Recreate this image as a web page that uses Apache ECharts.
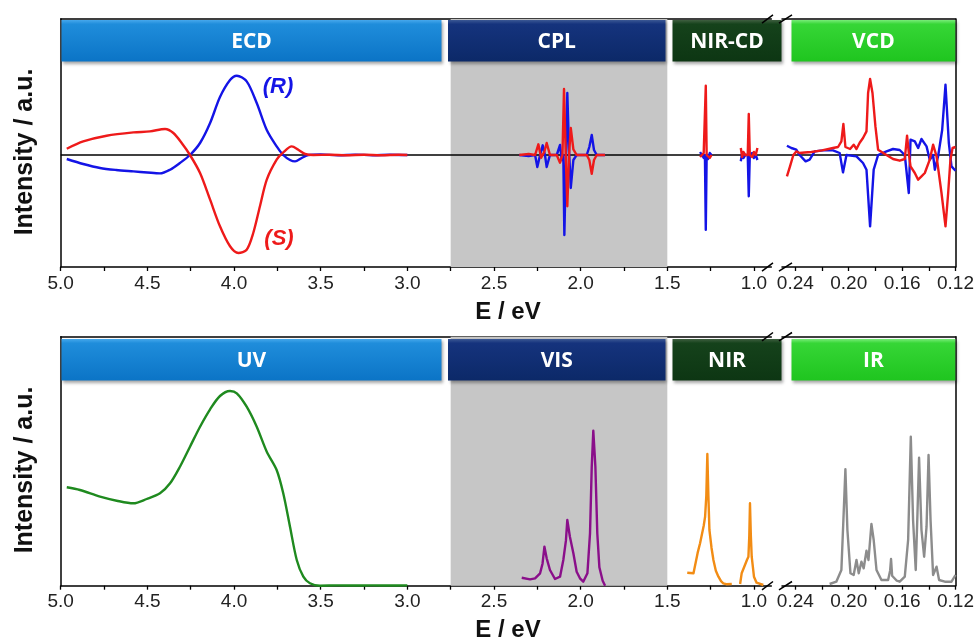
<!DOCTYPE html>
<html><head><meta charset="utf-8">
<script src="https://cdn.jsdelivr.net/npm/echarts@6/dist/echarts.min.js"></script>
<style>html,body{margin:0;padding:0;background:#fff;}#c{width:977px;height:644px;}</style>
</head><body><div id="c"></div>
<script>
// ---------------- DATA (energy in eV, intensity in a.u.) ----------------
// Top panel: ECD (5.0 - 3.0 eV)
const ecdRx = [4.965,4.87,4.773,4.68,4.58,4.50,4.427,4.369,4.312,4.254,4.196,4.138,4.081,4.023,3.984,3.927,3.869,3.811,3.754,3.716,3.677,3.648,3.609,3.571,3.50,3.40,3.30,3.20,3.10,3.00];
const ecdRy = [-4,-9,-13,-15,-16.4,-17.5,-18.4,-14.7,-8,0,12,32,58,75,79.3,73.6,52,25,8.6,0,-5,-6.4,-3,0,0.5,-0.3,0.4,-0.2,0.3,0];
const ecdSx = [4.965,4.87,4.735,4.58,4.485,4.398,4.35,4.302,4.254,4.196,4.138,4.081,4.023,3.975,3.927,3.889,3.85,3.811,3.754,3.716,3.667,3.629,3.59,3.542,3.45,3.35,3.25,3.15,3.05,3.0];
const ecdSy = [6.3,13.6,19.3,22.6,23.6,26,22,12,0,-18,-44.7,-71.3,-91.3,-98,-94.7,-78,-51,-24.7,-4.7,2.6,8.6,5.3,1,0,0.3,-0.3,0.2,-0.2,0.3,0];
// CPL
const cplRx = [2.354,2.30,2.263,2.250,2.234,2.219,2.206,2.196,2.177,2.138,2.119,2.109,2.100,2.094,2.084,2.077,2.067,2.057,2.042,2.023,1.965,1.950,1.936,1.923,1.907,1.859];
const cplRy = [0,-1,0,-12,0,9.7,0,-12,0,0,10,-5,0,-80,0,62,5,-33,-5,0,0,8,20,5,0,0];
const cplSx = [2.354,2.30,2.263,2.244,2.228,2.210,2.196,2.177,2.138,2.119,2.105,2.096,2.086,2.077,2.067,2.057,2.042,2.023,1.965,1.950,1.936,1.923,1.907,1.859];
const cplSy = [0,1,0,10.7,-2.7,3,12,0,0,-7.7,0,66,0,-51.3,0,27,5.6,0,0,-5,-18.7,-5,0,0];
// NIR-CD (two bands)
const nircd1x = [1.311,1.30,1.29,1.283,1.278,1.273,1.265,1.255,1.245];
const nircd1R = [3,4,-3,0,-74.7,0,-4,2,0];
const nircd1S = [-2,-4,2,0,69.3,0,2,-3,0];
const nircd2x = [1.076,1.068,1.061,1.050,1.036,1.030,1.024,1.010,1.000,0.990,0.980];
const nircd2R = [-6.3,2,-3,0,0,-41.3,0,2,-3,0,-5];
const nircd2S = [7,-2,3,0,0,41,0,-2,3,0,7];
// VCD (0.25 - 0.12 eV)
const vcdRx = [0.2463,0.2430,0.2393,0.2368,0.2323,0.2293,0.2255,0.2193,0.2118,0.2068,0.2043,0.2017,0.1942,0.1893,0.1867,0.1840,0.1813,0.1780,0.1717,0.1668,0.1618,0.1580,0.1550,0.1537,0.1505,0.1480,0.1455,0.1417,0.1393,0.1368,0.1355,0.1330,0.1300,0.1275,0.1250,0.1230,0.1200];
const vcdRy = [9.3,7,5.3,0,-6.4,-4.7,3.6,4.6,4.6,2,-17.4,0,-1.4,-8,-14.7,-71.4,-14.7,0,3.6,6,5,0,-38,15.3,13.6,7,16,8.6,-4.7,0,-14.7,-1,25,70.3,12,-11.4,-15.7];
const vcdSx = [0.2463,0.2440,0.2415,0.2393,0.2368,0.2330,0.2280,0.2200,0.2118,0.2080,0.2055,0.2040,0.2025,0.1990,0.1963,0.1942,0.1918,0.1893,0.1867,0.1855,0.1840,0.1822,0.1800,0.1780,0.1717,0.1668,0.1618,0.1580,0.1563,0.1550,0.1537,0.1505,0.1480,0.1455,0.1430,0.1393,0.1368,0.1342,0.1305,0.1275,0.1255,0.1238,0.1222,0.1200];
const vcdSy = [-21.4,-11.4,0,3.6,2,2.5,3,4.6,7,8,13.6,31,8,6,10.3,6,12.3,17,23.6,62,76,62,28.6,5.3,0,-4,-5.7,-4,19.3,2,-11.4,-18,-24.7,-21.4,-18,-4.7,10.3,-1.4,-38,-71.4,-38,-4.7,7,8];
// Bottom panel: UV
const uvX = [4.965,4.889,4.773,4.677,4.581,4.504,4.427,4.369,4.312,4.254,4.196,4.138,4.081,4.023,3.984,3.927,3.869,3.811,3.754,3.716,3.677,3.638,3.600,3.562,3.504,3.40,3.30,3.20,3.10,3.00];
const uvY = [98.4,95.7,89,85,82.4,86.7,92.4,102.4,119,139,159,176.4,189.7,194.7,192.4,179,159,134,115.7,92.4,59,25.7,9,2.4,0,0.3,0.2,0.3,0.2,0.3];
// VIS
const visX = [2.340,2.292,2.263,2.234,2.220,2.209,2.196,2.177,2.148,2.119,2.100,2.085,2.077,2.062,2.042,2.023,2.004,1.985,1.961,1.946,1.936,1.927,1.915,1.904,1.892,1.873,1.859];
const visY = [8,6.3,7.3,12.4,22,39,27.4,15.7,6.7,9,25.7,45,65.7,49,32.4,14,7.4,4,12.4,52.4,119,155,119,52.4,18.4,5,0];
// NIR (two bands)
const nir1X = [1.385,1.349,1.325,1.311,1.290,1.282,1.275,1.269,1.263,1.257,1.245,1.234,1.220,1.205,1.190,1.177,1.160,1.128];
const nir1Y = [13,12.4,32.8,42.4,60,69,90,131.7,90,55.7,38,25.7,15,9,4.5,2.4,1.5,1.7];
const nir2X = [1.080,1.071,1.052,1.040,1.032,1.027,1.023,1.018,1.013,1.000,0.985,0.975,0.946];
const nir2Y = [1.7,12.4,20.7,26,29,50,82.4,50,29,9,3,1.7,0.7];
// IR
const irX = [0.2143,0.2093,0.2055,0.2038,0.2025,0.2010,0.1987,0.1963,0.1942,0.1925,0.1905,0.1888,0.1867,0.1852,0.1830,0.1813,0.1792,0.1755,0.1705,0.1690,0.1683,0.1675,0.1640,0.1618,0.1580,0.1555,0.1535,0.1518,0.1498,0.1485,0.1473,0.1455,0.1435,0.1417,0.1402,0.1387,0.1368,0.1342,0.1323,0.1280,0.1230,0.1200];
const irY = [1.7,4,15.7,72.4,116.4,55.7,12.4,10.7,25.7,12.4,24,17.4,35,25.7,61.7,45.7,15.7,5.7,5.7,15,26.7,10,5,4,9,45.7,149,65.7,15.7,72.4,128,55.7,29,59,130.7,65.7,10.7,19,5.7,4,4,10.7];
// Axis ticks / labels
const seg1Ticks = [5.0,4.75,4.5,4.25,4.0,3.75,3.5,3.25,3.0,2.75,2.5,2.25,2.0,1.75,1.5,1.25,1.0];
const seg1Labels = [5.0,4.5,4.0,3.5,3.0,2.5,2.0,1.5,1.0];
const seg2Ticks = [0.24,0.22,0.20,0.18,0.16,0.14,0.12];
const seg2Labels = [0.24,0.20,0.16,0.12];
const shadedRange = [2.75, 1.5];
const topBands = ['ECD','CPL','NIR-CD','VCD'];
const bottomBands = ['UV','VIS','NIR','IR'];

// ---------------- LAYOUT ----------------
const LEFT = 60.7, BRK1 = 771.3, BRK2 = 782, RIGHT = 956;
const panels = [{top:19, bottom:267, ymin:-112, ymax:136, ytitle:152}, {top:336.7, bottom:585.7, ymin:0, ymax:249, ytitle:470}];
const seg = [{min:0.9, max:5.0, left:LEFT, right:BRK1, ticks:seg1Ticks, labels:seg1Labels, dec:1},
             {min:0.12, max:0.25, left:BRK2, right:RIGHT, ticks:seg2Ticks, labels:seg2Labels, dec:2}];
const FONT = '"Liberation Sans", Arial, sans-serif';

const grids = [], xAxes = [], yAxes = [];
panels.forEach((p) => {
  seg.forEach((s) => {
    grids.push({left:s.left, top:p.top, width:s.right - s.left, height:p.bottom - p.top});
  });
});
grids.forEach((g, gi) => {
  const s = seg[gi % 2], p = panels[Math.floor(gi / 2)];
  xAxes.push({
    gridIndex: gi, type: 'value', min: s.min, max: s.max, inverse: true, position: 'bottom',
    axisLine: {show: true, onZero: false, lineStyle: {color: '#000', width: 1.5}},
    axisTick: {show: true, inside: false, length: 4, customValues: s.ticks, lineStyle: {color: '#000', width: 1.3}},
    axisLabel: {show: true, customValues: s.labels, margin: 7, fontFamily: FONT, fontSize: 19, color: '#222',
                formatter: v => Number(v).toFixed(s.dec)},
    splitLine: {show: false}
  });
  yAxes.push({
    gridIndex: gi, type: 'value', min: p.ymin, max: p.ymax, position: gi % 2 === 0 ? 'left' : 'right',
    axisLine: {show: true, onZero: false, lineStyle: {color: '#000', width: 1.5}},
    axisTick: {show: false}, axisLabel: {show: false}, splitLine: {show: false}
  });
});
grids.forEach((g, gi) => {
  const s = seg[gi % 2];
  xAxes.push({
    gridIndex: gi, type: 'value', min: s.min, max: s.max, inverse: true, position: 'top',
    axisLine: {show: true, onZero: false, lineStyle: {color: '#000', width: 1.5}},
    axisTick: {show: false}, axisLabel: {show: false}, splitLine: {show: false}
  });
});

function pairs(xs, ys) { return xs.map((x, i) => [x, ys[i]]); }
function line(xs, ys, color, gi, smooth) {
  return {type: 'line', xAxisIndex: gi, yAxisIndex: gi, data: pairs(xs, ys), showSymbol: false, symbol: 'none',
          smooth: smooth || false, lineStyle: {color: color, width: 2.4, join: 'round'}, itemStyle: {color: color}, z: 3, silent: true,
          animation: false, clip: true};
}
const BLUE = '#1414e6', RED = '#ee1a1a';
const series = [
  {type: 'line', xAxisIndex: 0, yAxisIndex: 0, data: [], z: 1, silent: true,
   markArea: {silent: true, itemStyle: {color: '#c6c6c6'}, data: [[{xAxis: shadedRange[0]}, {xAxis: shadedRange[1]}]]}},
  {type: 'line', xAxisIndex: 2, yAxisIndex: 2, data: [], z: 1, silent: true,
   markArea: {silent: true, itemStyle: {color: '#c6c6c6'}, data: [[{xAxis: shadedRange[0]}, {xAxis: shadedRange[1]}]]}},
  line(ecdRx, ecdRy, BLUE, 0, 0.3), line(ecdSx, ecdSy, RED, 0, 0.3),
  line(cplRx, cplRy, BLUE, 0), line(cplSx, cplSy, RED, 0),
  line(nircd1x, nircd1R, BLUE, 0), line(nircd1x, nircd1S, RED, 0),
  line(nircd2x, nircd2R, BLUE, 0), line(nircd2x, nircd2S, RED, 0),
  line(vcdRx, vcdRy, BLUE, 1), line(vcdSx, vcdSy, RED, 1),
  line(uvX, uvY, '#1f8a1f', 2, 0.3),
  line(visX, visY, '#8a0f8a', 2),
  line(nir1X, nir1Y, '#f28c14', 2), line(nir2X, nir2Y, '#f28c14', 2),
  line(irX, irY, '#8c8c8c', 3)
];

const chart = echarts.init(document.getElementById('c'));
chart.setOption({animation: false, grid: grids, xAxis: xAxes, yAxis: yAxes, series: series});

// ---------------- DECORATIONS ----------------
const bandX = [[61.5, 441.5], [448, 665.5], [672.5, 781.5], [791.5, 955.3]];
const bandFill = [
  [[0, '#46a8ec'], [0.1, '#1f8ddb'], [1, '#0b74c6']],
  [[0, '#3b5894'], [0.1, '#15337d'], [1, '#0c2968']],
  [[0, '#3f5f40'], [0.1, '#15421b'], [1, '#0d3613']],
  [[0, '#78ec78'], [0.1, '#36d636'], [1, '#1fc51f']]
];
const gfx = [];
panels.forEach((p, pi) => {
  const names = pi === 0 ? topBands : bottomBands;
  const by = p.top + (pi === 0 ? 1 : 2.3), bh = 41.5;
  bandX.forEach((b, i) => {
    gfx.push({type: 'rect', z: 20, shape: {x: b[0], y: by, width: b[1] - b[0], height: bh},
      style: {fill: new echarts.graphic.LinearGradient(0, 0, 0, 1, bandFill[i].map(s => ({offset: s[0], color: s[1]}))),
              shadowBlur: 3, shadowOffsetX: 1.5, shadowOffsetY: 2, shadowColor: 'rgba(0,0,0,0.35)'}});
    gfx.push({type: 'text', z: 21, x: (b[0] + b[1]) / 2, y: by + bh / 2 + 1,
      style: {text: names[i], fill: '#fff', font: 'bold 21px "Open Sans", sans-serif', textAlign: 'center', textVerticalAlign: 'middle'}});
  });
  // axis break marks (top and bottom frame)
  [p.top, p.bottom].forEach(yy => {
    gfx.push({type: 'line', z: 22, shape: {x1: 762, y1: yy + 4.2, x2: 773, y2: yy - 4.2}, style: {stroke: '#000', lineWidth: 1.5}});
    gfx.push({type: 'line', z: 22, shape: {x1: 779, y1: yy + 4.2, x2: 792, y2: yy - 4.2}, style: {stroke: '#000', lineWidth: 1.5}});
  });
  // axis titles
  gfx.push({type: 'text', z: 22, x: 25, y: p.ytitle, rotation: Math.PI / 2,
    style: {text: 'Intensity / a.u.', fill: '#111', font: 'bold 25px "Liberation Sans", Arial, sans-serif', textAlign: 'center', textVerticalAlign: 'middle'}});
  gfx.push({type: 'text', z: 22, x: 508, y: p.bottom + 45,
    style: {text: 'E / eV', fill: '#111', font: 'bold 24px "Liberation Sans", Arial, sans-serif', textAlign: 'center', textVerticalAlign: 'middle'}});
});
// zero line of the top panel (continuous through the axis break)
const y0 = chart.convertToPixel({yAxisIndex: 0}, 0);
gfx.push({type: 'line', z: 2, shape: {x1: LEFT, y1: y0, x2: RIGHT, y2: y0}, style: {stroke: '#000', lineWidth: 1.5}});
// enantiomer labels
gfx.push({type: 'text', z: 22, x: 278, y: 87, style: {text: '(R)', fill: BLUE, font: 'italic bold 22px "Liberation Sans", Arial, sans-serif', textAlign: 'center', textVerticalAlign: 'middle'}});
gfx.push({type: 'text', z: 22, x: 279, y: 239, style: {text: '(S)', fill: RED, font: 'italic bold 22px "Liberation Sans", Arial, sans-serif', textAlign: 'center', textVerticalAlign: 'middle'}});
chart.setOption({graphic: {elements: gfx}});
</script></body></html>
